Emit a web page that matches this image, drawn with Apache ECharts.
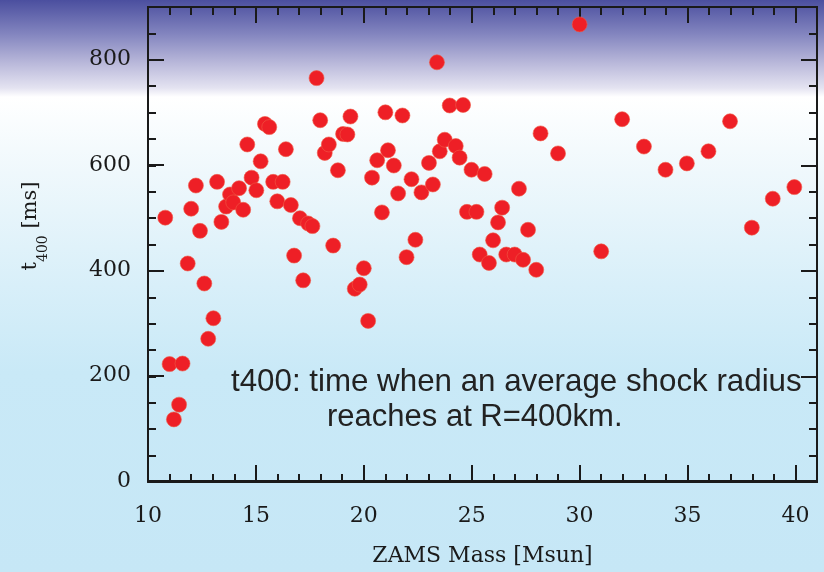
<!DOCTYPE html>
<html>
<head>
<meta charset="utf-8">
<script src="https://cdn.jsdelivr.net/npm/echarts@6/dist/echarts.min.js"></script>
<style>
  html, body { margin: 0; padding: 0; }
  #chart {
    width: 824px; height: 572px;
    background: linear-gradient(to bottom,
      #4b4f9f 0px, #8385bf 34px, #b9b8da 63px, #e4e3f1 88px, #ffffff 97px,
      #eff8fc 172px, #d8eff9 286px, #c9e9f7 372px, #c6e7f6 572px);
  }
</style>
</head>
<body>
<div id="chart"></div>
<script>
// ZAMS mass [Msun]
const masses = [
  10.8, 11.0, 11.6, 11.2, 11.44, 11.84, 12.0, 12.22, 12.41, 12.61,
  12.79, 13.03, 13.2, 13.4, 13.62, 13.8, 13.95, 14.22, 14.41, 14.6,
  14.8, 15.02, 15.22, 15.42, 15.62, 15.8, 15.99, 16.24, 16.39, 16.62,
  16.77, 17.04, 17.19, 17.42, 17.62, 17.81, 17.98, 18.19, 18.38, 18.58,
  18.8, 19.04, 19.24, 19.38, 19.58, 19.81, 20.0, 20.2, 20.38, 20.62,
  20.84, 21.0, 21.12, 21.39, 21.59, 21.79, 21.98, 22.21, 22.39, 22.67,
  23.02, 23.2, 23.39, 23.52, 23.75, 23.98, 24.26, 24.44, 24.6, 24.78,
  24.99, 25.22, 25.37, 25.6, 25.8, 25.99, 26.22, 26.41, 26.6, 26.99,
  27.19, 27.38, 27.61, 27.99, 28.19, 29.0, 30.0, 31.0, 31.97, 32.98,
  33.98, 34.97, 35.97, 36.97, 37.98, 38.95, 39.95
];
// t400 [ms]
const t400 = [
  500, 222, 223, 117, 145, 413, 517, 561, 475, 375,
  270, 309, 568, 492, 521, 544, 529, 556, 515, 639,
  576, 552, 607, 678, 672, 568, 531, 568, 630, 524,
  428, 499, 381, 489, 484, 765, 685, 623, 639, 447,
  590, 659, 658, 692, 365, 373, 404, 304, 576, 609,
  510, 700, 628, 599, 546, 694, 425, 573, 458, 548,
  604, 563, 795, 626, 648, 713, 636, 614, 714, 511,
  591, 511, 430, 583, 414, 457, 491, 519, 430, 430,
  555, 420, 477, 401, 660, 622, 867, 436, 687, 635,
  591, 603, 626, 683, 481, 536, 558
];
const xTickLabels = [10, 15, 20, 25, 30, 35, 40];
const yTickLabels = [0, 200, 400, 600, 800];

const chart = echarts.init(document.getElementById('chart'), null, { renderer: 'canvas' });

const gridRect = { left: 148, top: 7, width: 669, height: 475 };
const lineStyle = { color: '#1a1a1a', width: 2 };
const serif = 'DejaVu Serif';

function xAx(grid, pos, interval, len, labels) {
  return {
    type: 'value', gridIndex: grid, position: pos, min: 10, max: 41, interval: interval,
    axisLine: { show: true, lineStyle: lineStyle, onZero: false },
    axisTick: { show: true, inside: true, length: len, lineStyle: lineStyle },
    splitLine: { show: false },
    axisLabel: labels ? {
      show: true, margin: 24, color: '#1a1a1a', fontFamily: serif, fontSize: 22,
      formatter: v => xTickLabels.indexOf(v) >= 0 ? String(v) : ''
    } : { show: false },
    name: labels ? 'ZAMS Mass [Msun]' : '',
    nameLocation: 'middle', nameGap: 64,
    nameTextStyle: { color: '#1a1a1a', fontFamily: serif, fontSize: 22 }
  };
}
function yAx(grid, pos, interval, len, labels) {
  return {
    type: 'value', gridIndex: grid, position: pos, min: 0, max: 900, interval: interval,
    axisLine: { show: true, lineStyle: lineStyle, onZero: false },
    axisTick: { show: true, inside: true, length: len, lineStyle: lineStyle },
    splitLine: { show: false },
    axisLabel: labels ? {
      show: true, margin: 17, color: '#1a1a1a', fontFamily: serif, fontSize: 22,
      formatter: v => yTickLabels.indexOf(v) >= 0 ? String(v) : ''
    } : { show: false }
  };
}

const option = {
  animation: false,
  backgroundColor: 'transparent',
  grid: [0, 1, 2, 3].map(() => Object.assign({ containLabel: false }, gridRect)),
  xAxis: [
    xAx(0, 'bottom', 5, 16, true),
    xAx(1, 'bottom', 1, 8, false),
    xAx(2, 'top', 5, 16, false),
    xAx(3, 'top', 1, 8, false)
  ],
  yAxis: [
    yAx(0, 'left', 200, 16, true),
    yAx(1, 'left', 50, 8, false),
    yAx(2, 'right', 200, 16, false),
    yAx(3, 'right', 50, 8, false)
  ],
  series: [{
    type: 'scatter',
    xAxisIndex: 0, yAxisIndex: 0,
    symbol: 'circle', symbolSize: 15,
    itemStyle: { color: '#ee1f26', opacity: 1, borderColor: 'rgba(240,90,70,0.6)', borderWidth: 1 },
    data: masses.map((m, i) => [m, t400[i]]),
    z: 5
  }],
  graphic: [
    {
      type: 'text', x: 231, y: 382, z: 10,
      style: {
        text: 't400: time when an average shock radius',
        fontFamily: 'Liberation Sans', fontSize: 31.3, fill: '#222',
        align: 'left', verticalAlign: 'middle'
      }
    },
    {
      type: 'text', x: 327, y: 417, z: 10,
      style: {
        text: 'reaches at R=400km.',
        fontFamily: 'Liberation Sans', fontSize: 31, fill: '#222',
        align: 'left', verticalAlign: 'middle'
      }
    },
    {
      type: 'text', x: 31, y: 226, rotation: Math.PI / 2, z: 10,
      style: {
        text: '{a|t}{b|400}{a| [ms]}',
        align: 'center', verticalAlign: 'middle',
        rich: {
          a: { fontFamily: serif, fontSize: 21, fill: '#1a1a1a', lineHeight: 26, verticalAlign: 'middle' },
          b: { fontFamily: serif, fontSize: 14, fill: '#1a1a1a', lineHeight: 26, verticalAlign: 'bottom', padding: [0, 0, -6, 0] }
        }
      }
    }
  ]
};
chart.setOption(option);
</script>
</body>
</html>
